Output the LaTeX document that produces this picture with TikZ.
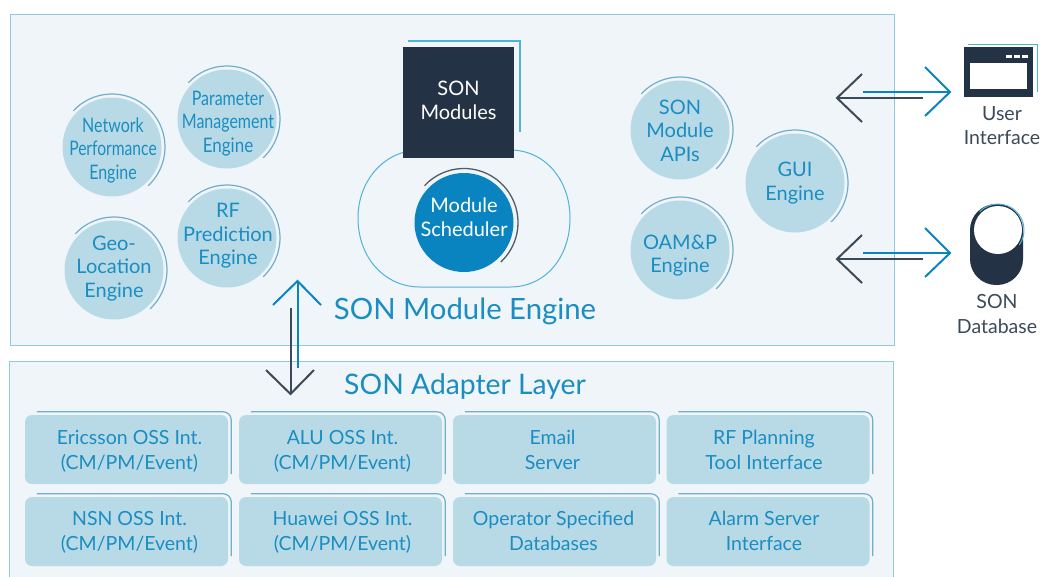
\documentclass[tikz,border=0pt]{standalone}
\usepackage{fontspec}
\usepackage{graphicx}
\setmainfont{Lato}
\usetikzlibrary{calc}
\definecolor{panelbg}{HTML}{F0F5F9}
\definecolor{panelline}{HTML}{8CCBE2}
\definecolor{bubble}{HTML}{B8DAE6}
\definecolor{arcblue}{HTML}{6FAFCB}
\definecolor{txtblue}{HTML}{1A8DC2}
\definecolor{navy}{HTML}{233345}
\definecolor{brightblue}{HTML}{0A84C1}
\definecolor{accent}{HTML}{4FB3D9}
\definecolor{greytxt}{HTML}{3C4A58}
\tikzset{
 x=1pt,y=-1pt,
 panel/.style={draw=panelline,fill=panelbg,line width=1pt},
 engine/.style={circle,fill=bubble,minimum size=99pt,inner sep=0pt,outer sep=0pt,align=center,text=txtblue,font=\fontsize{20}{23.5}\selectfont},
 cardbox/.style={rectangle,rounded corners=7pt,fill=bubble,minimum width=203pt,minimum height=69pt,inner sep=0pt,align=center,text=txtblue,font=\fontsize{19.5}{25.5}\selectfont},
 arcline/.style={draw=arcblue,line width=1.2pt},
 blueline/.style={draw=brightblue,line width=2pt},
 darkline/.style={draw=greytxt,line width=2pt},
 sidelabel/.style={align=center,text=greytxt,font=\fontsize{19.5}{24.5}\selectfont,inner sep=0pt},
 headline/.style={text=txtblue,font=\fontsize{29.3}{32}\selectfont,inner sep=0pt},
}
% [#1]: rightward shift, #2: downward shift of the text from the node centre, #3: lines of text (takes no room in the shape)
\newcommand{\lowtext}[3][0]{\makebox[0pt]{\hspace*{#1pt}\hspace*{#1pt}\raisebox{\dimexpr-#2pt-8pt\relax}[0pt][0pt]{\begin{tabular}{@{}c@{}}#3\end{tabular}}}}
\setlength{\tabcolsep}{0pt}
\begin{document}
\begin{tikzpicture}
\useasboundingbox (0,0) rectangle (1040,576);
\fill[white] (0,0) rectangle (1040,576);
% panels
\node[panel,minimum width=884pt,minimum height=331pt,inner sep=0pt,anchor=north west] (enginepanel) at (9.5,13.5) {};
\path[panel] (9.5,578) -- (9.5,361.5) -- (893.5,361.5) -- (893.5,578);
\node[headline] (enginetitle) at (465,311) {SON Module Engine};
\node[headline,font=\fontsize{28.3}{30}\selectfont] (adaptertitle) at (465,386) {SON Adapter Layer};
% engines
\node[engine] (npe) at (112,147) {\lowtext[1]{1}{\scalebox{.8}[1]{Network}\\\scalebox{.78}[1]{Performance}\\\scalebox{.8}[1]{Engine}}};
\node[engine] (pme) at (227,119) {\lowtext[1]{2}{\scalebox{.8}[1]{Parameter}\\\scalebox{.8}[1]{Management}\\\scalebox{.85}[1]{Engine}}};
\node[engine] (geo) at (114,270) {\lowtext{-4}{Geo-\\Location\\Engine}};
\node[engine] (rfp) at (227,238) {\lowtext[1]{-4.5}{RF\\Prediction\\Engine}};
\node[engine] (api) at (680,130) {\lowtext{0}{SON\\Module\\APIs}};
\node[engine] (gui) at (795,183) {\lowtext{-2}{GUI\\Engine}};
\node[engine] (oam) at (680,250) {\lowtext{3.5}{OAM\&P\\Engine}};
\foreach \n in {npe,pme,geo,rfp,api,gui,oam}{
  \draw[arcline] ($(\n)+(-137:53)$) arc[start angle=-137,end angle=47,radius=53];
}
% scheduler
\draw[draw=accent,line width=1pt] (420,150) .. controls (385,150) and (358,180) .. (358,218) .. controls (358,258) and (385,287) .. (420,287) -- (510,287) .. controls (545,287) and (570,258) .. (570,218) .. controls (570,180) and (545,150) .. (510,150) -- cycle;
\node[rectangle,fill=navy,minimum width=111pt,minimum height=111pt,inner sep=0pt,align=center,text=white,font=\fontsize{20}{24.5}\selectfont] (modules) at (458.5,102.5) {\lowtext{-2.5}{SON\\Modules}};
\draw[draw=accent,line width=2pt] (408,41) -- (520,41) -- (520,132);
\node[circle,fill=brightblue,minimum size=99pt,inner sep=0pt,outer sep=0pt,align=center,text=white,font=\fontsize{20}{24.5}\selectfont] (sched) at (464,222.5) {\lowtext{-5.5}{Module\\Scheduler}};
\draw[draw=navy!80,line width=1.3pt] ($(sched)+(-137:54)$) arc[start angle=-137,end angle=47,radius=54];
% centre arrow
\coordinate (upA) at (297.5,281);
\coordinate (upB) at (297.5,368);
\coordinate (dnA) at (290.5,394);
\coordinate (dnB) at (290.5,308);
\draw[blueline] (upB) -- (upA);
\draw[blueline] (273,305) -- (upA) -- (321,305);
\draw[darkline] (dnB) -- (dnA);
\draw[darkline] (266,370) -- (dnA) -- (314,370);
% right arrows
\foreach \y/\nm in {0/a,161/b}{
  \coordinate (bt\nm) at (950,92+\y);
  \coordinate (bs\nm) at (863,92+\y);
  \coordinate (dt\nm) at (837,98+\y);
  \coordinate (ds\nm) at (923,98+\y);
  \draw[darkline] (ds\nm) -- (dt\nm);
  \draw[darkline] (862,74+\y) -- (dt\nm) -- (862,122+\y);
  \draw[blueline] (bs\nm) -- (bt\nm);
  \draw[blueline] (925,67+\y) -- (bt\nm) -- (925,116+\y);
}
% UI icon
\draw[draw=accent,line width=1pt] (968,44) -- (1037,44) -- (1037,92);
\node[rectangle,fill=navy,minimum width=69pt,minimum height=50pt,inner sep=0pt,anchor=north west] (uiicon) at (964,47) {};
\fill[white] (970,63) rectangle (1027,89);
\foreach \x in {1006,1014,1022}{\fill[white] (\x,54.5) rectangle (\x+6,57.5);}
\node[sidelabel] (uilabel) at (1002,125.5) {User\\Interface};
% DB icon
\node[rectangle,rounded corners=26pt,fill=navy,minimum width=53pt,minimum height=81pt,inner sep=0pt] (dbicon) at (996.5,244.5) {};
\fill[white] (998,230) circle[radius=24];
\draw[draw=accent,line width=1pt] ($(998,230)+(-135:26)$) arc[start angle=-135,end angle=35,radius=26];
\node[sidelabel] (dblabel) at (997,314) {SON\\Database};
% cards
\node[cardbox] (c1) at (126.5,449.5) {\lowtext[3]{-.5}{Ericsson OSS Int.\\(CM/PM/Event)}};
\node[cardbox] (c2) at (340.5,449.5) {\lowtext[2]{-.5}{ALU OSS Int.\\(CM/PM/Event)}};
\node[cardbox] (c3) at (554.5,449.5) {\lowtext[-2]{-.5}{Email\\Server}};
\node[cardbox] (c4) at (768,449.5) {\lowtext[-4]{-.5}{RF Planning\\Tool Interface}};
\node[cardbox] (c5) at (126.5,531.5) {\lowtext[3]{-1.5}{NSN OSS Int.\\(CM/PM/Event)}};
\node[cardbox] (c6) at (340.5,531.5) {\lowtext[2]{-1.5}{Huawei OSS Int.\\(CM/PM/Event)}};
\node[cardbox] (c7) at (554.5,531.5) {\lowtext[-1]{-1.5}{Operator Specified\\Databases}};
\node[cardbox] (c8) at (768,531.5) {\lowtext[-4]{-1.5}{Alarm Server\\Interface}};
\foreach \n in {c1,c2,c3,c4,c5,c6,c7,c8}{
  \draw[arcline,rounded corners=8pt] ($(\n.north west)+(12,-3)$) -- ($(\n.north east)+(3,-3)$) -- ($(\n.south east)+(3,-10)$);
}
\end{tikzpicture}
\end{document}
